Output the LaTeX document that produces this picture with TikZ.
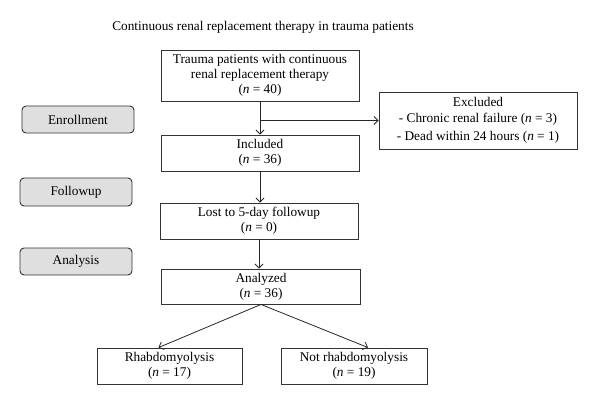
\documentclass[tikz,border=0pt]{standalone}
\usepackage{fontspec}
\setmainfont{Liberation Serif}
\usetikzlibrary{arrows.meta,calc}
\begin{document}
\begin{tikzpicture}[x=1pt,y=-1pt,
  font=\fontsize{13.3}{15.2}\selectfont,
  box/.style={draw=black!80,line width=0.9pt,align=center,inner sep=0pt},
  phase/.style={draw=black!80,line width=0.9pt,fill=gray!25,rounded corners=4pt,inner sep=0pt,
    minimum width=112pt,minimum height=27pt},
  arr/.style={draw=black!85,line width=0.8pt,-{Straight Barb[length=4pt,width=8pt]}}]
\useasboundingbox (0,0) rectangle (600,409);
\node (title) at (263,27) {Continuous renal replacement therapy in trauma patients};
\node[box,minimum width=198pt,minimum height=51pt] (b1) at (260,75.5)
  {Trauma patients with continuous\\renal replacement therapy\\(\textit{n} = 40)};
\node[phase] (enr) at (78,119.5) {Enrollment};
\node[box,minimum width=198pt,minimum height=57pt] (ex) at (478,120.5)
  {Excluded\\- Chronic renal failure (\textit{n} = 3)\\[3pt]- Dead within 24 hours (\textit{n} = 1)};
\node[box,minimum width=198pt,minimum height=36pt] (inc) at (260,153) {Included\\(\textit{n} = 36)};
\node[phase,minimum height=28pt] (fol) at (76,192) {Followup};
\node[box,minimum width=198pt,minimum height=36pt] (lost) at (259,221) {Lost to 5-day followup\\(\textit{n} = 0)};
\node[phase] (ana) at (76,261.5) {Analysis};
\node[box,minimum width=199pt,minimum height=35pt] (anz) at (261,286.5) {Analyzed\\(\textit{n} = 36)};
\node[box,minimum width=145pt,minimum height=36pt] (rh) at (169.5,366) {Rhabdomyolysis\\(\textit{n} = 17)};
\node[box,minimum width=146pt,minimum height=36pt] (nr) at (354,366) {Not rhabdomyolysis\\(\textit{n} = 19)};
\coordinate (br) at (b1.south |- ex.west);
\draw[arr] (b1.south) -- (inc.north);
\draw[arr] (br) -- (ex.west);
\draw[arr] (inc.south) -- (inc.south |- lost.north);
\draw[arr] (lost.south) -- (lost.south |- anz.north);
\draw[arr] (anz.south) -- ($(rh.north)+(-11,0)$);
\draw[arr] (anz.south) -- ($(nr.north)+(14,0)$);
\end{tikzpicture}
\end{document}
